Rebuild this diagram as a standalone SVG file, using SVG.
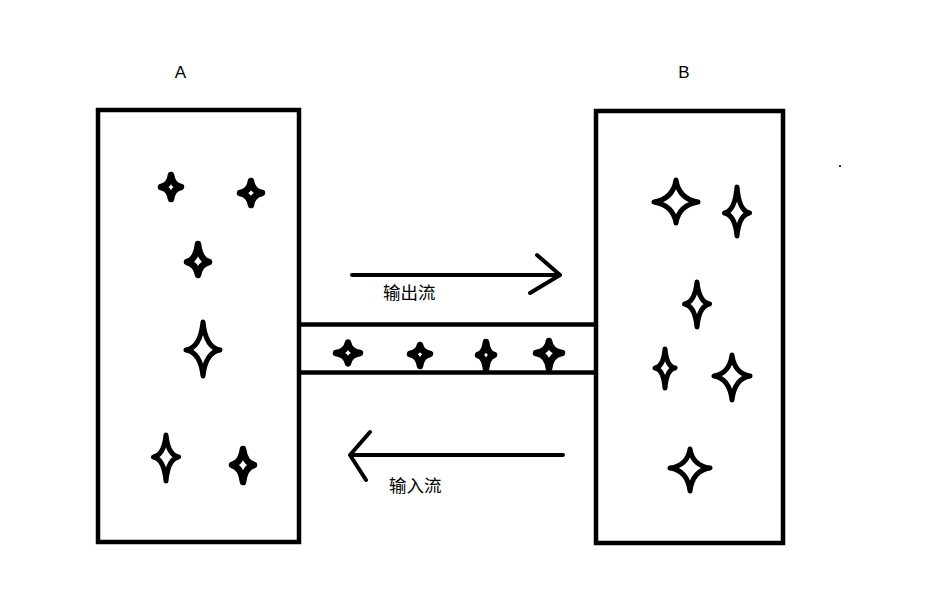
<svg xmlns="http://www.w3.org/2000/svg" width="933" height="593" viewBox="0 0 933 593">
<style>
.box{fill:none;stroke:#000;stroke-width:4.5}
.star{fill:none;stroke:#000;stroke-width:5;stroke-linejoin:round}
.sm{stroke-width:6.5}
.flow{fill:none;stroke:#000;stroke-width:4;stroke-linecap:round;stroke-linejoin:round}
.lbl{font-family:"Liberation Sans","Noto Sans CJK SC",sans-serif;font-size:17px;fill:#000}
.cn{font-family:"Noto Sans CJK SC","Liberation Sans",sans-serif;font-size:17.5px;fill:#000}
</style>
<rect width="933" height="593" fill="#fff"/>
<g id="nodeA">
<rect class="box" x="98" y="110" width="201" height="432"/>
<text class="lbl" x="180.5" y="78" text-anchor="middle">A</text>
<path class="star sm" d="M171,175 Q172.5,185.5 181,187 Q172.5,188.5 171,199 Q169.5,188.5 161,187 Q169.5,185.5 171,175 Z"/>
<path class="star sm" d="M251,181 Q252.5,191.5 262,193 Q252.5,194.5 251,205 Q249.5,194.5 240,193 Q249.5,191.5 251,181 Z"/>
<path class="star sm" d="M198,244 Q200,260 209,262 Q200,264 198,275 Q196,264 187,262 Q196,260 198,244 Z"/>
<path class="star" d="M203,322 Q205.5,347.5 220,350 Q205.5,352.5 203,376 Q200.5,352.5 186,350 Q200.5,347.5 203,322 Z"/>
<path class="star" d="M166,435 Q168,455 178.5,457 Q168,459 166,481 Q164,459 153.5,457 Q164,455 166,435 Z"/>
<path class="star sm" d="M243,449 Q245,463 254,465 Q245,467 243,482 Q241,467 232,465 Q241,463 243,449 Z"/>
</g>
<g id="nodeB">
<rect class="box" x="596" y="111" width="187" height="432"/>
<text class="lbl" x="684" y="78" text-anchor="middle">B</text>
<path class="star" d="M676,180 Q679,199 698,202 Q679,205 676,223 Q673,205 654,202 Q673,199 676,180 Z"/>
<path class="star" d="M737,187 Q739,211 749.5,213 Q739,215 737,236 Q735,215 724.5,213 Q735,211 737,187 Z"/>
<path class="star" d="M697,282 Q699,302 709.5,304 Q699,306 697,327 Q695,306 684.5,304 Q695,302 697,282 Z"/>
<path class="star" d="M665,349 Q666.5,366.5 675,368 Q666.5,369.5 665,388 Q663.5,369.5 655,368 Q663.5,366.5 665,349 Z"/>
<path class="star" d="M732,355 Q734.5,373.5 750,376 Q734.5,378.5 732,400 Q729.5,378.5 714,376 Q729.5,373.5 732,355 Z"/>
<path class="star" d="M690,449 Q692.5,465.5 710,468 Q692.5,470.5 690,491 Q687.5,470.5 670,468 Q687.5,465.5 690,449 Z"/>
<rect x="839" y="165" width="2" height="2" fill="#333"/>
</g>
<g id="pipe">
<line class="box" x1="299" y1="324.5" x2="596" y2="324.5"/>
<line class="box" x1="299" y1="372.5" x2="596" y2="372.5"/>
<path class="star sm" d="M348,342.5 Q349.5,351.5 360,353 Q349.5,354.5 348,363.5 Q346.5,354.5 336,353 Q346.5,351.5 348,342.5 Z"/>
<path class="star sm" d="M420,345 Q421.5,352.5 430,354 Q421.5,355.5 420,366 Q418.5,355.5 410,354 Q418.5,352.5 420,345 Z"/>
<path class="star sm" d="M486,342 Q487.5,353.5 494,355 Q487.5,356.5 486,369 Q484.5,356.5 478,355 Q484.5,353.5 486,342 Z"/>
<path class="star sm" d="M549,341 Q550.5,351.5 562,353 Q550.5,354.5 549,369 Q547.5,354.5 536,353 Q547.5,351.5 549,341 Z"/>
</g>
<g id="connectors">
<g id="out-flow">
<path class="flow" d="M352,275 L560,275 M537,255 L560,275 L530,293"/>
<text class="cn" x="383" y="299">输出流</text>
</g>
<g id="in-flow">
<path class="flow" d="M563,455 L350,455 M370,432 L350,455 L366,480"/>
<text class="cn" x="389" y="492">输入流</text>
</g>
</g>
</svg>
